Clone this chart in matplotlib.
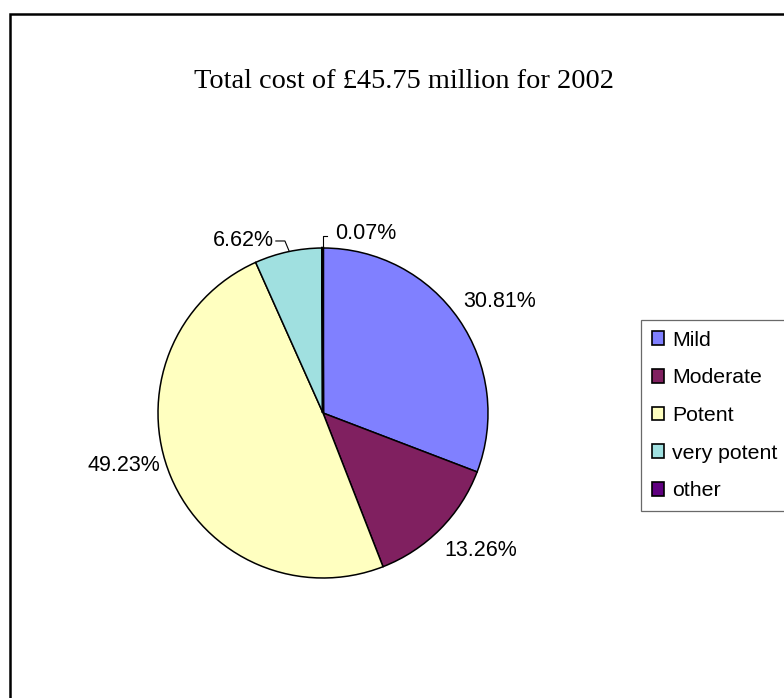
import matplotlib.pyplot as plt
from matplotlib.patches import Rectangle, Patch
import numpy as np

# data
categories = ["Mild", "Moderate", "Potent", "very potent", "other"]
shares = [30.81, 13.26, 49.23, 6.62, 0.07]
colors = ["#8080FF", "#802060", "#FFFFC0", "#A0E0E0", "#600080"]
title = "Total cost of \u00a345.75 million for 2002"

W, H = 784, 698
fig = plt.figure(figsize=(W / 100, H / 100), dpi=100)

# outer frame (cut by the image at right and bottom)
fig.patches.append(Rectangle((10 / W, -0.05), 1.1, 1.05 - 14 / H,
                             transform=fig.transFigure, fill=False,
                             edgecolor="black", linewidth=1.8))

fig.text(404 / W, 1 - 82 / H, title, ha="center", va="center",
         fontsize=20.4, family="Liberation Serif")

side = 495
ax = fig.add_axes([(323 - side / 2) / W, (H - 413 - side / 2) / H, side / W, side / H])
wedges, _ = ax.pie(shares, colors=colors, startangle=90, counterclock=False,
                   radius=1.0, wedgeprops=dict(edgecolor="black", linewidth=1.1))
wedges[-1].set_linewidth(1.8)  # the tiny slice shows as a thick line
ax.set_xlim(-1.5, 1.5)
ax.set_ylim(-1.5, 1.5)
ax.axis("off")

lab_font = dict(fontsize=15.5, family="Liberation Sans")
# Excel nudges the outside labels a little off the mid-angle
nudge = [-2.4, 3.7, -8.1]
dist = [1.266, 1.27, 1.25]
for i, w in enumerate(wedges):
    mid_deg = (w.theta1 + w.theta2) / 2
    mid = np.deg2rad(mid_deg)
    txt = "%.2f%%" % shares[i]
    if i < 3:
        a = np.deg2rad(mid_deg + nudge[i])
        ax.text(dist[i] * np.cos(a), dist[i] * np.sin(a), txt, ha="center", va="center", **lab_font)
    elif i == 3:
        x0, y0 = np.cos(mid), np.sin(mid)
        ax.plot([x0 + 0.005, x0 - 0.02, x0 - 0.075], [y0 + 0.005, y0 + 0.065, y0 + 0.065],
                color="black", lw=0.8)
        ax.text(x0 - 0.085, y0 + 0.065, txt, ha="right", va="center", **lab_font)
    else:
        x0, y0 = np.cos(mid), np.sin(mid)
        ax.plot([x0, x0, x0 + 0.025], [y0, y0 + 0.075, y0 + 0.075], color="black", lw=0.8)
        ax.text(x0 + 0.075, y0 + 0.085, txt, ha="left", va="center", **lab_font)

handles = [Patch(facecolor=c, edgecolor="black", linewidth=1.2) for c in colors]
leg = fig.legend(handles, categories, loc="upper left",
                 bbox_to_anchor=(641 / W, 1 - 320 / H), frameon=True, fancybox=False,
                 prop=dict(size=15.3, family="Liberation Sans"),
                 handlelength=0.6, handleheight=0.6, handletextpad=0.38,
                 labelspacing=0.88, borderpad=0.5, borderaxespad=0)
leg.get_frame().set_edgecolor("#444444")
leg.get_frame().set_linewidth(0.9)

fig.savefig("out.png", dpi=100)
